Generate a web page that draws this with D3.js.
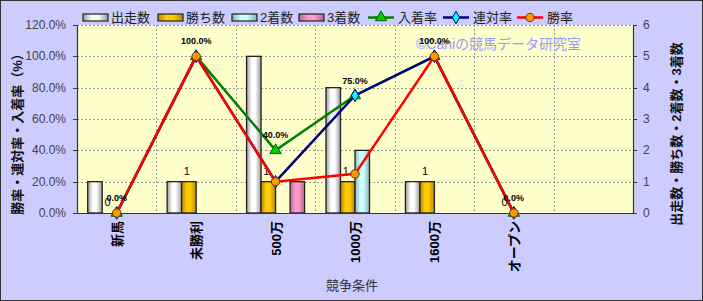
<!DOCTYPE html>
<html>
<head>
<meta charset="utf-8">
<script src="https://cdn.jsdelivr.net/npm/d3@7"></script>
<style>
  body { margin: 0; background: #fff; }
  svg { display: block; font-family: "Liberation Sans", "Noto Sans CJK JP", sans-serif; }
  .grid line { stroke: #999; stroke-dasharray: 2,2; stroke-width: 1; }
  .tick-l text, .tick-r text { fill: #444; font-size: 12px; }
</style>
</head>
<body>
<div id="chart"></div>
<script>
// data
var categories = ["新馬", "未勝利", "500万", "1000万", "1600万", "オープン", ""];
var runners = [1, 1, 5, 4, 1, 0, null];     // 出走数
var wins = [0, 1, 1, 1, 1, 0, null];        // 勝ち数
var seconds = [0, 0, 0, 2, 0, 0, null];     // 2着数
var thirds = [0, 0, 1, 0, 0, 0, null];      // 3着数
var placeRate = [0, 1, 0.4, 0.75, 1, 0];    // 入着率
var rentaiRate = [0, 1, 0.2, 0.75, 1, 0];   // 連対率
var winRate = [0, 1, 0.2, 0.25, 1, 0];      // 勝率
var leftTicks = [0, 0.2, 0.4, 0.6, 0.8, 1.0, 1.2];
var rightTicks = [0, 1, 2, 3, 4, 5, 6];

var width = 703, height = 301;
var plot = { left: 77, right: 633, top: 25, bottom: 213 };

var svg = d3.select("#chart").append("svg")
  .attr("width", width)
  .attr("height", height);

// background
svg.append("rect")
  .attr("x", 0.5).attr("y", 0.5)
  .attr("width", width - 1).attr("height", height - 1)
  .attr("fill", "#ccccff").attr("stroke", "#333");

svg.append("rect")
  .attr("x", plot.left).attr("y", plot.top)
  .attr("width", plot.right - plot.left).attr("height", plot.bottom - plot.top)
  .attr("fill", "#ffffcc");

var x = d3.scaleBand()
  .domain(categories.map(function(d, i) { return i; }))
  .range([plot.left, plot.right]);

var barSeries = [
  { name: "出走数", values: runners, color: "#ffffff", dark: "#9a9a9a" },
  { name: "勝ち数", values: wins, color: "#ffcc00", dark: "#b38a00" },
  { name: "2着数", values: seconds, color: "#ccffff", dark: "#88b0b0" },
  { name: "3着数", values: thirds, color: "#ff99cc", dark: "#b86690" }
];

var xInner = d3.scaleBand()
  .domain(barSeries.map(function(s) { return s.name; }))
  .range([10.7, x.bandwidth() - 10.7]);

var yL = d3.scaleLinear().domain([0, 1.2]).range([plot.bottom, plot.top]);
var yR = d3.scaleLinear().domain([0, 6]).range([plot.bottom, plot.top]);

// gradients for the cylinder look
var defs = svg.append("defs");
barSeries.forEach(function(s, i) {
  var g = defs.append("linearGradient").attr("id", "grad" + i)
    .attr("x1", "0%").attr("x2", "100%").attr("y1", "0%").attr("y2", "0%");
  g.append("stop").attr("offset", "0%").attr("stop-color", s.dark);
  g.append("stop").attr("offset", "35%").attr("stop-color", s.color);
  g.append("stop").attr("offset", "60%").attr("stop-color", s.color);
  g.append("stop").attr("offset", "100%").attr("stop-color", s.dark);
});

// grid
var grid = svg.append("g").attr("class", "grid");
grid.selectAll(".h")
  .data(leftTicks.slice(1))
  .enter().append("line")
    .attr("x1", plot.left).attr("x2", plot.right)
    .attr("y1", function(d) { return Math.round(yL(d)) + 0.5; })
    .attr("y2", function(d) { return Math.round(yL(d)) + 0.5; });
grid.selectAll(".v")
  .data(categories.slice(1).map(function(d, i) { return i + 1; }))
  .enter().append("line")
    .attr("x1", function(d) { return Math.round(x(d)) + 0.5; })
    .attr("x2", function(d) { return Math.round(x(d)) + 0.5; })
    .attr("y1", plot.top).attr("y2", plot.bottom);

// bars
barSeries.forEach(function(s, si) {
  svg.append("g").selectAll("rect")
    .data(s.values.map(function(v, i) { return { i: i, v: v }; })
      .filter(function(d) { return d.v; }))
    .enter().append("rect")
      .attr("x", function(d) { return x(d.i) + xInner(s.name); })
      .attr("y", function(d) { return yR(d.v); })
      .attr("width", xInner.bandwidth())
      .attr("height", function(d) { return plot.bottom - yR(d.v); })
      .attr("fill", "url(#grad" + si + ")")
      .attr("stroke", "#222")
      .attr("stroke-width", 1.3);
});

// win count labels
svg.append("g").selectAll("text")
  .data(wins.map(function(v, i) { return { i: i, v: v }; })
    .filter(function(d) { return d.v !== null; }))
  .enter().append("text")
    .attr("x", function(d) { return x(d.i) + xInner("勝ち数") + xInner.bandwidth() / 2 - 2; })
    .attr("y", function(d) { return yR(d.v) - 7; })
    .attr("text-anchor", "middle")
    .attr("font-size", 11)
    .attr("fill", "#000")
    .text(function(d) { return d.v; });

// axes lines
svg.append("path")
  .attr("d", "M" + (plot.left + 0.5) + "," + plot.top + "V" + (plot.bottom + 0.5) +
    "H" + (plot.right + 0.5) + "V" + plot.top)
  .attr("fill", "none").attr("stroke", "#333").attr("stroke-width", 1.2);

// left ticks
var lt = svg.append("g").attr("class", "tick-l");
lt.selectAll("text")
  .data(leftTicks)
  .enter().append("text")
    .attr("x", plot.left - 11)
    .attr("y", function(d) { return yL(d) + 4; })
    .attr("text-anchor", "end")
    .text(d3.format(".1%"));
lt.selectAll("line")
  .data(leftTicks)
  .enter().append("line")
    .attr("x1", plot.left - 4).attr("x2", plot.left)
    .attr("y1", function(d) { return Math.round(yL(d)) + 0.5; })
    .attr("y2", function(d) { return Math.round(yL(d)) + 0.5; })
    .attr("stroke", "#333");

// right ticks
var rt = svg.append("g").attr("class", "tick-r");
rt.selectAll("text")
  .data(rightTicks)
  .enter().append("text")
    .attr("x", plot.right + 10)
    .attr("y", function(d) { return yR(d) + 4; })
    .text(function(d) { return d; });
rt.selectAll("line")
  .data(rightTicks)
  .enter().append("line")
    .attr("x1", plot.right).attr("x2", plot.right + 4)
    .attr("y1", function(d) { return Math.round(yR(d)) + 0.5; })
    .attr("y2", function(d) { return Math.round(yR(d)) + 0.5; })
    .attr("stroke", "#333");

// category labels
svg.append("g").selectAll("text")
  .data(categories)
  .enter().append("text")
    .attr("transform", function(d, i) {
      return "translate(" + (x(i) + x.bandwidth() / 2 + 5) + "," + (plot.bottom + 8) + ") rotate(-90)";
    })
    .attr("text-anchor", "end")
    .attr("font-size", 13)
    .attr("font-weight", "bold")
    .attr("fill", "#000")
    .text(function(d) { return d; });

// axis titles
svg.append("text")
  .attr("transform", "translate(22," + ((plot.top + plot.bottom) / 2 + 12) + ") rotate(-90)")
  .attr("text-anchor", "middle")
  .attr("font-size", 13)
  .attr("font-weight", "bold")
  .attr("fill", "#111")
  .text("勝率・連対率・入着率（%）");

svg.append("text")
  .attr("transform", "translate(681," + ((plot.top + plot.bottom) / 2 + 15) + ") rotate(-90)")
  .attr("text-anchor", "middle")
  .attr("font-size", 13)
  .attr("font-weight", "bold")
  .attr("fill", "#111")
  .text("出走数・勝ち数・2着数・3着数");

svg.append("text")
  .attr("x", (plot.left + plot.right) / 2 - 3)
  .attr("y", 290)
  .attr("text-anchor", "middle")
  .attr("font-size", 13)
  .attr("fill", "#333")
  .text("競争条件");

// watermark
svg.append("text")
  .attr("x", 416).attr("y", 49)
  .attr("font-size", 14)
  .attr("fill", "#9999ff")
  .text("©Caniの競馬データ研究室");

// lines
var lineSeries = [
  { name: "入着率", values: placeRate, color: "#008000", marker: "triangle", fill: "#00cc00", mstroke: "#006600" },
  { name: "連対率", values: rentaiRate, color: "#000080", marker: "diamond", fill: "#00ffff", mstroke: "#000080" },
  { name: "勝率", values: winRate, color: "#ff0000", marker: "circle", fill: "#ff9900", mstroke: "#663300" }
];

var line = d3.line()
  .x(function(d, i) { return x(i) + x.bandwidth() / 2; })
  .y(function(d) { return yL(d); });

var symbols = {
  triangle: d3.symbol().type(d3.symbolTriangle).size(55),
  diamond: d3.symbol().type(d3.symbolDiamond).size(45),
  circle: d3.symbol().type(d3.symbolCircle).size(55)
};

lineSeries.forEach(function(s) {
  var g = svg.append("g");
  g.append("path")
    .datum(s.values)
    .attr("d", line)
    .attr("fill", "none")
    .attr("stroke", s.color)
    .attr("stroke-width", 2.5);
  g.selectAll("path.m")
    .data(s.values)
    .enter().append("path")
      .attr("class", "m")
      .attr("transform", function(d, i) {
        return "translate(" + (x(i) + x.bandwidth() / 2) + "," + yL(d) + ")";
      })
      .attr("d", symbols[s.marker])
      .attr("fill", s.fill)
      .attr("stroke", s.mstroke)
      .attr("stroke-width", 1);
});

// 入着率 labels
svg.append("g").selectAll("text")
  .data(placeRate)
  .enter().append("text")
    .attr("x", function(d, i) { return x(i) + x.bandwidth() / 2; })
    .attr("y", function(d) { return yL(d) - 12; })
    .attr("text-anchor", "middle")
    .attr("font-size", 9)
    .attr("font-weight", "bold")
    .attr("fill", "#000")
    .text(d3.format(".1%"));

// legend
var legend = svg.append("g").attr("class", "legend");
var barLegendX = [83, 158, 232, 299];
barSeries.forEach(function(s, i) {
  legend.append("rect")
    .attr("x", barLegendX[i]).attr("y", 14)
    .attr("width", 25).attr("height", 7)
    .attr("fill", "url(#grad" + i + ")")
    .attr("stroke", "#222").attr("stroke-width", 1.2);
  legend.append("text")
    .attr("x", barLegendX[i] + 28).attr("y", 22)
    .attr("font-size", 13).attr("fill", "#222")
    .text(s.name);
});
var lineLegendX = [368, 443, 517];
lineSeries.forEach(function(s, i) {
  legend.append("line")
    .attr("x1", lineLegendX[i]).attr("x2", lineLegendX[i] + 26)
    .attr("y1", 17.5).attr("y2", 17.5)
    .attr("stroke", s.color).attr("stroke-width", 2.5);
  legend.append("path")
    .attr("transform", "translate(" + (lineLegendX[i] + 13) + ",17.5)")
    .attr("d", symbols[s.marker])
    .attr("fill", s.fill).attr("stroke", s.mstroke);
  legend.append("text")
    .attr("x", lineLegendX[i] + 30).attr("y", 22)
    .attr("font-size", 13).attr("fill", "#222")
    .text(s.name);
});
</script>
</body>
</html>
